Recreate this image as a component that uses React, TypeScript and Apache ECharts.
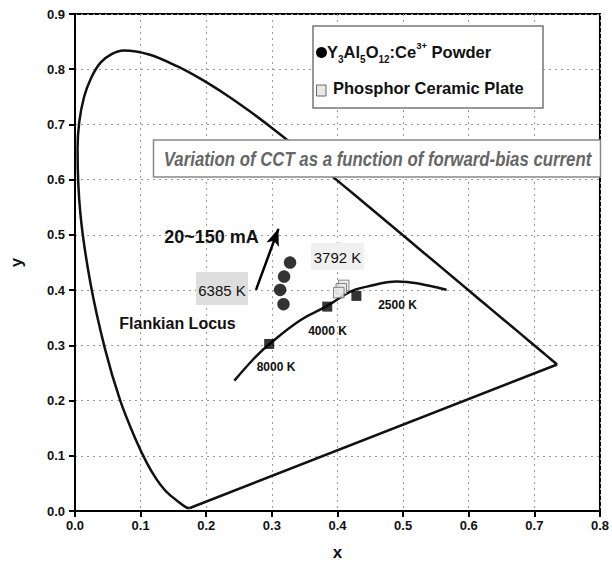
import React, { useEffect, useRef } from "react";
import * as echarts from "echarts";

// ---- axis ticks ----
const xTickValues = [0, 0.1, 0.2, 0.3, 0.4, 0.5, 0.6, 0.7, 0.8];
const yTickValues = [0, 0.1, 0.2, 0.3, 0.4, 0.5, 0.6, 0.7, 0.8, 0.9];

// ---- CIE 1931 spectral locus (horseshoe) ----
const spectralLocus: [number, number][] = [
  [0.1741, 0.005], [0.1689, 0.0069],
  [0.1566, 0.0177], [0.144, 0.0297], [0.1355, 0.0399],
  [0.1241, 0.0578], [0.1096, 0.0868], [0.0913, 0.1327], [0.0687, 0.2007],
  [0.0454, 0.295], [0.0235, 0.4127], [0.0082, 0.5384], [0.0039, 0.6548],
  [0.0139, 0.7502], [0.0389, 0.812], [0.0743, 0.8338], [0.1142, 0.8262],
  [0.1547, 0.8059], [0.1929, 0.7816], [0.2296, 0.7543], [0.2658, 0.7243],
  [0.3016, 0.6923], [0.3373, 0.6589], [0.3731, 0.6245], [0.4087, 0.5896],
  [0.4441, 0.5547], [0.4788, 0.5202], [0.5125, 0.4866], [0.5448, 0.4544],
  [0.5752, 0.4242], [0.6029, 0.3965], [0.627, 0.3725], [0.6482, 0.3514],
  [0.6658, 0.334], [0.6915, 0.3083], [0.7079, 0.292], [0.719, 0.2809],
  [0.726, 0.274], [0.7347, 0.2653],
];
// ---- purple line (closing the horseshoe) ----
const purpleLine: [number, number][] = [[0.7347, 0.2653], [0.1741, 0.005]];

// ---- Planckian ("Flankian") locus ----
const planckianLocus: [number, number][] = [
  [0.2429, 0.2361], [0.2732, 0.2766], [0.2959, 0.302], [0.3439, 0.346],
  [0.3844, 0.3714], [0.4197, 0.3973], [0.445, 0.4063], [0.4905, 0.4154],
  [0.5208, 0.4125], [0.5662, 0.4004],
];

// ---- CCT reference points on the locus ----
const cctPoints: [number, number][] = [
  [0.2959, 0.3025], [0.3844, 0.3701], [0.4288, 0.3895],
];
const cctLabels = ["8000 K", "4000 K", "2500 K"];

// ---- Y3Al5O12:Ce3+ powder points ----
const powderPoints: [number, number][] = [
  [0.3277, 0.4498], [0.3186, 0.4245], [0.3126, 0.4004], [0.3177, 0.3745],
];

// ---- Phosphor ceramic plate points ----
const ceramicPoints: [number, number][] = [
  [0.4095, 0.4085], [0.4058, 0.4025], [0.402, 0.3955],
];

// ---- arrow (20~150 mA) ----
const arrowStart: [number, number] = [0.2758, 0.4004];
const arrowEnd: [number, number] = [0.31, 0.511];

const FONT = '"Liberation Sans", Arial, Helvetica, sans-serif';

export default function App() {
  const ref = useRef<HTMLDivElement>(null);

  useEffect(() => {
    if (!ref.current) return;
    const chart = echarts.init(ref.current, undefined, { renderer: "svg" });

    const tickLabel = {
      color: "#111",
      fontFamily: FONT,
      fontWeight: "bold" as const,
      fontSize: 13,
      formatter: (v: number) => v.toFixed(1),
    };
    const splitLine = {
      show: true,
      lineStyle: { color: "#9a9a9a", width: 1, type: [2, 4] as number[] },
    };

    const option: any = {
      animation: false,
      backgroundColor: "#ffffff",
      grid: {
        left: 73,
        right: 11,
        top: 14,
        bottom: 63,
        show: true,
        borderColor: "#000",
        borderWidth: 2,
        backgroundColor: "transparent",
      },
      xAxis: {
        type: "value",
        min: xTickValues[0],
        max: xTickValues[xTickValues.length - 1],
        interval: 0.1,
        name: "x",
        nameLocation: "middle",
        nameGap: 33,
        nameTextStyle: { fontSize: 17, fontWeight: "bold", fontFamily: FONT, color: "#111" },
        axisLine: { show: true, onZero: false, lineStyle: { color: "#000", width: 2 } },
        axisTick: { show: true, inside: false, length: 6, lineStyle: { color: "#000", width: 2 } },
        axisLabel: { ...tickLabel, margin: 8 },
        splitLine,
      },
      yAxis: {
        type: "value",
        min: yTickValues[0],
        max: yTickValues[yTickValues.length - 1],
        interval: 0.1,
        name: "y",
        nameLocation: "middle",
        nameGap: 50,
        nameTextStyle: { fontSize: 17, fontWeight: "bold", fontFamily: FONT, color: "#111" },
        axisLine: { show: true, onZero: false, lineStyle: { color: "#000", width: 2 } },
        axisTick: { show: true, inside: false, length: 6, lineStyle: { color: "#000", width: 2 } },
        axisLabel: { ...tickLabel, margin: 10 },
        splitLine,
      },
      series: [
        {
          type: "line",
          name: "spectral locus",
          data: spectralLocus,
          showSymbol: false,
          smooth: 0.3,
          lineStyle: { color: "#111", width: 2.5 },
          z: 3,
        },
        {
          type: "line",
          name: "purple line",
          data: purpleLine,
          showSymbol: false,
          lineStyle: { color: "#111", width: 2.5 },
          z: 3,
        },
        {
          type: "line",
          name: "Flankian Locus",
          data: planckianLocus,
          showSymbol: false,
          smooth: 0.4,
          lineStyle: { color: "#111", width: 2.5 },
          z: 3,
          markLine: {
            silent: true,
            symbol: ["none", "arrow"],
            symbolSize: [10, 17],
            label: { show: false },
            lineStyle: { color: "#000", width: 2.5, type: "solid" },
            data: [[{ coord: arrowStart }, { coord: arrowEnd }]],
          },
        },
        {
          type: "scatter",
          name: "CCT",
          data: cctPoints,
          symbol: "rect",
          symbolSize: 10,
          itemStyle: { color: "#000" },
          z: 4,
        },
        {
          type: "scatter",
          name: "Y3Al5O12:Ce3+ Powder",
          data: powderPoints,
          symbol: "circle",
          symbolSize: 12.5,
          itemStyle: { color: "#000" },
          z: 4,
        },
        {
          type: "scatter",
          name: "Phosphor Ceramic Plate",
          data: ceramicPoints,
          symbol: "rect",
          symbolSize: 10.5,
          itemStyle: { color: "#e8e8e8", borderColor: "#6a6a6a", borderWidth: 1 },
          z: 5,
        },
      ],
      graphic: [
        // legend box
        {
          type: "rect",
          shape: { x: 313, y: 26, width: 230, height: 82 },
          style: { fill: "#fff", stroke: "#777", lineWidth: 1.5 },
          z: 10,
        },
        {
          type: "circle",
          shape: { cx: 321.5, cy: 52.5, r: 5.5 },
          style: { fill: "#000" },
          z: 11,
        },
        {
          type: "text",
          x: 327,
          y: 52,
          z: 11,
          style: {
            text: "{a|Y}{s|3}{a|Al}{s|5}{a|O}{s|12}{a|:Ce}{p|3+}{a| Powder}",
            align: "left",
            verticalAlign: "middle",
            fill: "#111",
            fontFamily: FONT,
            fontWeight: "bold",
            fontSize: 16.5,
            rich: {
              a: { fontFamily: FONT, fontWeight: "bold", fontSize: 16.5, lineHeight: 24, fill: "#111" },
              s: { fontFamily: FONT, fontWeight: "bold", fontSize: 10, lineHeight: 10, verticalAlign: "bottom", fill: "#111" },
              p: { fontFamily: FONT, fontWeight: "bold", fontSize: 9.5, lineHeight: 10, verticalAlign: "top", fill: "#111" },
            },
          },
        },
        {
          type: "rect",
          shape: { x: 316.5, y: 85, width: 9.5, height: 11 },
          style: { fill: "#e8e8e8", stroke: "#6a6a6a", lineWidth: 1 },
          z: 11,
        },
        {
          type: "text",
          x: 333,
          y: 88,
          z: 11,
          style: {
            text: "Phosphor Ceramic Plate",
            align: "left",
            verticalAlign: "middle",
            fill: "#111",
            fontFamily: FONT,
            fontWeight: "bold",
            fontSize: 16.5,
          },
        },
        // annotation box
        {
          type: "rect",
          shape: { x: 153.5, y: 140, width: 447, height: 37 },
          style: { fill: "#fff", stroke: "#888", lineWidth: 1.5 },
          z: 10,
        },
        {
          type: "text",
          x: 377.5,
          y: 158.5,
          scaleX: 0.8,
          z: 11,
          style: {
            text: "Variation of CCT as a function of forward-bias current",
            align: "center",
            verticalAlign: "middle",
            fill: "#666666",
            fontFamily: FONT,
            fontWeight: "bold",
            fontStyle: "italic",
            fontSize: 21,
          },
        },
        // current label
        {
          type: "text",
          x: 211.5,
          y: 237,
          z: 11,
          style: {
            text: "20~150 mA",
            align: "center",
            verticalAlign: "middle",
            fill: "#111",
            fontFamily: FONT,
            fontWeight: "bold",
            fontSize: 18,
          },
        },
        // 6385 K
        {
          type: "rect",
          shape: { x: 196, y: 272, width: 52, height: 33 },
          style: { fill: "#dedede" },
          z: 9,
        },
        {
          type: "text",
          x: 222,
          y: 290,
          z: 11,
          style: {
            text: "6385 K",
            align: "center",
            verticalAlign: "middle",
            fill: "#111",
            fontFamily: FONT,
            fontSize: 15,
          },
        },
        // 3792 K
        {
          type: "rect",
          shape: { x: 311, y: 243, width: 53, height: 27 },
          style: { fill: "#f0f0f0" },
          z: 9,
        },
        {
          type: "text",
          x: 337.5,
          y: 257,
          z: 11,
          style: {
            text: "3792 K",
            align: "center",
            verticalAlign: "middle",
            fill: "#111",
            fontFamily: FONT,
            fontSize: 15,
          },
        },
        // Flankian Locus
        {
          type: "text",
          x: 177.5,
          y: 323,
          z: 11,
          style: {
            text: "Flankian Locus",
            align: "center",
            verticalAlign: "middle",
            fill: "#111",
            fontFamily: FONT,
            fontWeight: "bold",
            fontSize: 16,
          },
        },
        // CCT labels
        ...[
          [276, 367],
          [327.5, 331],
          [397.5, 305],
        ].map((p, i) => ({
          type: "text",
          x: p[0],
          y: p[1],
          z: 11,
          style: {
            text: cctLabels[i],
            align: "center",
            verticalAlign: "middle",
            fill: "#111",
            fontFamily: FONT,
            fontWeight: "bold",
            fontSize: 12,
          },
        })),
      ],
    };

    chart.setOption(option);
    return () => chart.dispose();
  }, []);

  return (
    <div
      ref={ref}
      style={{ position: "fixed", left: 0, top: 0, width: 612, height: 574, background: "#fff" }}
    />
  );
}
